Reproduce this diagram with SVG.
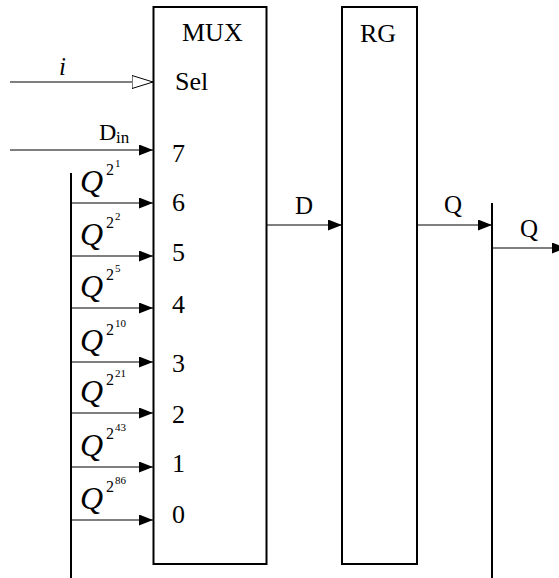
<svg xmlns="http://www.w3.org/2000/svg" width="559" height="578" viewBox="0 0 559 578">
<style>
.box{fill:#fff;stroke:#000;stroke-width:2}
.bus{stroke:#000;stroke-width:2;fill:none}
.ln{stroke:#000;stroke-width:1.2;fill:none}
.arr{marker-end:url(#ah)}
text{font-family:"Liberation Serif","Times New Roman",serif;fill:#000}
.t{font-size:26px}
.q{font-size:32px;font-style:italic}
.s1{font-size:16px}
.s2{font-size:11px}
.lb{font-size:25px}
</style>
<defs>
<marker id="ah" markerUnits="userSpaceOnUse" markerWidth="14" markerHeight="11" refX="14" refY="5.5" orient="auto">
<path d="M0,0 L14,5.5 L0,11 z" fill="#000"/>
</marker>
<marker id="ho" markerUnits="userSpaceOnUse" markerWidth="23" markerHeight="15" refX="21.5" refY="7" orient="auto">
<path d="M0.5,0.5 L21.5,7 L0.5,13.5 z" fill="#fff" stroke="#000" stroke-width="1"/>
</marker>
</defs>
<g id="mux">
<rect class="box" x="153.5" y="7" width="113" height="557"/>
<text class="t" x="182" y="41">MUX</text>
<text class="t" x="175" y="90">Sel</text>
<text class="t" x="172" y="162">7</text>
<text class="t" x="172" y="211">6</text>
<text class="t" x="172" y="261">5</text>
<text class="t" x="172" y="313">4</text>
<text class="t" x="172" y="372">3</text>
<text class="t" x="172" y="423">2</text>
<text class="t" x="172" y="472">1</text>
<text class="t" x="172" y="523">0</text>
</g>
<g id="rg">
<rect class="box" x="342" y="7" width="75" height="557"/>
<text class="t" x="360" y="42">RG</text>
</g>
<g id="connectors">
<line class="bus" x1="71" y1="173" x2="71" y2="578"/>
<line class="bus" x1="492" y1="203" x2="492" y2="578"/>
<line class="ln" x1="10" y1="82" x2="153" y2="82" marker-end="url(#ho)"/>
<line class="ln arr" x1="10" y1="150" x2="153" y2="150"/>
<line class="ln arr" x1="71" y1="203" x2="153" y2="203"/>
<line class="ln arr" x1="71" y1="256" x2="153" y2="256"/>
<line class="ln arr" x1="71" y1="308" x2="153" y2="308"/>
<line class="ln arr" x1="71" y1="362" x2="153" y2="362"/>
<line class="ln arr" x1="71" y1="413" x2="153" y2="413"/>
<line class="ln arr" x1="71" y1="467" x2="153" y2="467"/>
<line class="ln arr" x1="71" y1="520" x2="153" y2="520"/>
<line class="ln arr" x1="267" y1="225" x2="342" y2="225"/>
<line class="ln arr" x1="417" y1="225" x2="492" y2="225"/>
<line class="ln arr" x1="492" y1="248" x2="566" y2="248"/>
<text x="59" y="75" style="font-size:25px;font-style:italic">i</text>
<text x="99" y="140" style="font-size:24px">D</text>
<text x="116" y="143" style="font-size:17px">in</text>
<text class="lb" x="295" y="214">D</text>
<text class="lb" x="444" y="213">Q</text>
<text class="lb" x="520" y="237">Q</text>
<g><text class="q" x="80" y="192">Q</text><text class="s1" x="106" y="175">2</text><text class="s2" x="115" y="167">1</text></g>
<g><text class="q" x="80" y="245">Q</text><text class="s1" x="106" y="228">2</text><text class="s2" x="115" y="220">2</text></g>
<g><text class="q" x="80" y="297">Q</text><text class="s1" x="106" y="280">2</text><text class="s2" x="115" y="272">5</text></g>
<g><text class="q" x="80" y="351">Q</text><text class="s1" x="106" y="335">2</text><text class="s2" x="115" y="327">10</text></g>
<g><text class="q" x="80" y="402">Q</text><text class="s1" x="106" y="385">2</text><text class="s2" x="115" y="377">21</text></g>
<g><text class="q" x="80" y="456">Q</text><text class="s1" x="106" y="439">2</text><text class="s2" x="115" y="431">43</text></g>
<g><text class="q" x="80" y="509">Q</text><text class="s1" x="106" y="492">2</text><text class="s2" x="115" y="484">86</text></g>
</g>
</svg>
